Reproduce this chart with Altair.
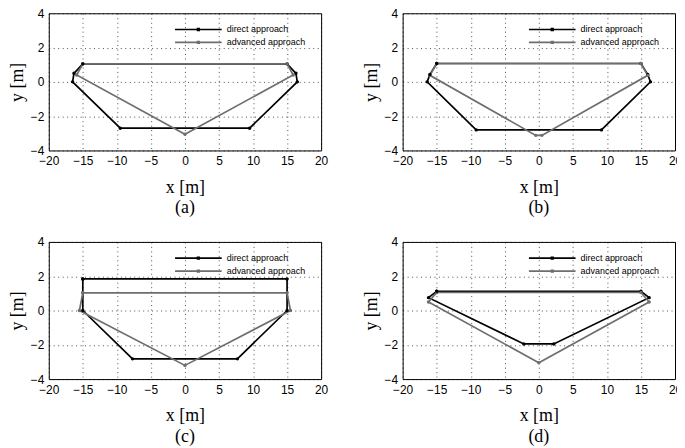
import altair as alt
import pandas as pd

SERIES = ["direct approach", "advanced approach"]
COLORS = ["#000000", "#6e6e6e"]
CAPTIONS = ["(a)", "(b)", "(c)", "(d)"]
X_TICKS = [-20, -15, -10, -5, 0, 5, 10, 15, 20]
Y_TICKS = [-4, -2, 0, 2, 4]

# panel (a)
A_DIRECT_X = [-15, 15, 16.3, 16.5, 9.5, -9.5, -16.5, -16.3, -15]
A_DIRECT_Y = [1.05, 1.05, 0.5, 0.0, -2.7, -2.7, 0.0, 0.5, 1.05]
A_ADV_X = [-15, 15, 15.9, 0, -15.9, -15]
A_ADV_Y = [1.05, 1.05, 0.4, -3.05, 0.4, 1.05]
# panel (b)
B_DIRECT_X = [-15, 15, 16.0, 16.4, 9.2, -9.2, -16.4, -16.0, -15]
B_DIRECT_Y = [1.07, 1.07, 0.43, 0.0, -2.8, -2.8, 0.0, 0.43, 1.07]
B_ADV_X = [-15, 15, 16.0, 0.45, -0.45, -16.0, -15]
B_ADV_Y = [1.07, 1.07, 0.38, -3.12, -3.12, 0.38, 1.07]
# panel (c)
C_DIRECT_X = [-15, 15, 15, 7.7, -7.7, -15, -15]
C_DIRECT_Y = [1.84, 1.84, 0.0, -2.82, -2.82, 0.0, 1.84]
C_ADV_X = [-15, 15, 15.5, 0, -15.5, -15]
C_ADV_Y = [1.03, 1.03, 0.0, -3.2, 0.0, 1.03]
# panel (d)
D_DIRECT_X = [-15, 15, 16.2, 2.2, -2.2, -16.2, -15]
D_DIRECT_Y = [1.12, 1.12, 0.75, -1.95, -1.95, 0.75, 1.12]
D_ADV_X = [-15, 15, 16.2, 0, -16.2, -15]
D_ADV_Y = [1.05, 1.05, 0.5, -3.05, 0.5, 1.05]

LEGEND_SYMBOL = "M-1,0H1M-0.035,-0.035H0.035V0.035H-0.035Z"


def panel(dx, dy, ax, ay, caption):
    rows = []
    for s, xs, ys in [(SERIES[0], dx, dy), (SERIES[1], ax, ay)]:
        for i, (x, y) in enumerate(zip(xs, ys)):
            rows.append({"series": s, "x": x, "y": y, "i": i})
    df = pd.DataFrame(rows)
    return (
        alt.Chart(
            df,
            title=alt.Title(
                caption, orient="bottom", font="Liberation Serif", fontSize=18,
                fontWeight="normal", color="black", offset=3, anchor="middle", frame="group",
            ),
        )
        .mark_line(strokeWidth=1.7, point=alt.OverlayMarkDef(filled=True, size=12))
        .encode(
            x=alt.X("x:Q", scale=alt.Scale(domain=[-20, 20], nice=False),
                    axis=alt.Axis(values=X_TICKS, title="x [m]", titlePadding=12)),
            y=alt.Y("y:Q", scale=alt.Scale(domain=[-4, 4], nice=False),
                    axis=alt.Axis(values=Y_TICKS, title="y [m]", titlePadding=2,
                                  minExtent=20, maxExtent=20)),
            color=alt.Color(
                "series:N",
                scale=alt.Scale(domain=SERIES, range=COLORS),
                legend=alt.Legend(
                    title=None, orient="none", legendX=126, legendY=10,
                    symbolType=LEGEND_SYMBOL, symbolSize=2200, clipHeight=12.6,
                    rowPadding=0, labelFontSize=9, labelFont="Liberation Sans",
                    labelColor="black", labelOffset=4, symbolStrokeWidth=1.7,
                    padding=0, symbolOffset=0,
                ),
            ),
            order="i:Q",
        )
        .properties(width=274, height=138)
    )


charts = [
    panel(A_DIRECT_X, A_DIRECT_Y, A_ADV_X, A_ADV_Y, CAPTIONS[0]),
    panel(B_DIRECT_X, B_DIRECT_Y, B_ADV_X, B_ADV_Y, CAPTIONS[1]),
    panel(C_DIRECT_X, C_DIRECT_Y, C_ADV_X, C_ADV_Y, CAPTIONS[2]),
    panel(D_DIRECT_X, D_DIRECT_Y, D_ADV_X, D_ADV_Y, CAPTIONS[3]),
]

chart = (
    alt.concat(*charts, columns=2, spacing={"row": 92, "column": 82}, bounds="flush")
    .resolve_scale(color="independent")
    .resolve_legend(color="independent")
    .properties(padding={"top": -3, "left": 0, "right": -6, "bottom": 0})
    .configure_view(stroke="black", strokeWidth=1)
    .configure_axis(
        labelFont="Liberation Sans", labelFontSize=12, labelColor="black",
        titleFont="Liberation Serif", titleFontSize=18, titleFontWeight="normal",
        titleColor="black", grid=True, gridColor="black", gridDash=[1, 3.5],
        gridOpacity=0.7, domain=False, ticks=False, labelPadding=5,
        labelFlush=False, labelOverlap=False,
    )
)

chart.save("out.html", embed_options={"renderer": "svg", "actions": False})
